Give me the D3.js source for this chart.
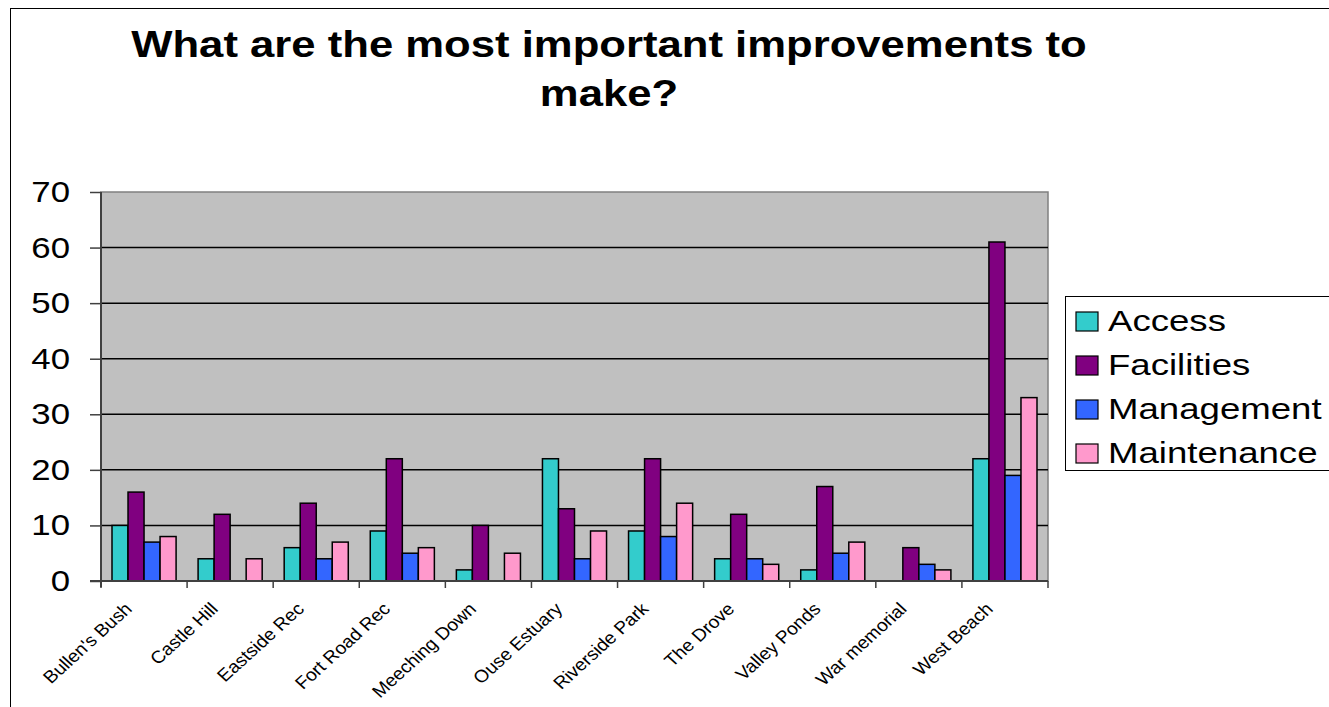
<!DOCTYPE html>
<html>
<head>
<meta charset="utf-8">
<script src="https://cdn.jsdelivr.net/npm/d3@7"></script>
<style>
  html, body { margin: 0; padding: 0; background: #fff; }
  svg { display: block; font-family: "Liberation Sans", Arial, sans-serif; }
</style>
</head>
<body>
<svg id="chart" width="1329" height="707"></svg>
<script>
// data
var sites = ["Bullen's Bush", 'Castle Hill', 'Eastside Rec', 'Fort Road Rec', 'Meeching Down',
  'Ouse Estuary', 'Riverside Park', 'The Drove', 'Valley Ponds', 'War memorial', 'West Beach'];
var seriesNames = ['Access', 'Facilities', 'Management', 'Maintenance'];
var access      = [10, 4, 6, 9, 2, 22, 9, 4, 2, 0, 22];
var facilities  = [16, 12, 14, 22, 10, 13, 22, 12, 17, 6, 61];
var management  = [7, 0, 4, 5, 0, 4, 8, 4, 5, 3, 19];
var maintenance = [8, 4, 7, 6, 5, 9, 14, 3, 7, 2, 33];
var yTicks = [0, 10, 20, 30, 40, 50, 60, 70];
var titleLines = ['What are the most important improvements to', 'make?'];

var colours = ['#33CCCC', '#800080', '#3366FF', '#FF99CC'];
var seriesValues = [access, facilities, management, maintenance];

(function drawChart() {
  'use strict';

  var svg = d3.select('#chart');
  var plot = { left: 101, right: 1048, top: 192, bottom: 581 };
  var stretch = 1.2; // source text is a bit wider than it is tall

  // outer frame
  svg.append('rect')
    .attr('x', 10.5).attr('y', 8.5)
    .attr('width', 1340).attr('height', 720)
    .attr('fill', '#fff').attr('stroke', '#000').attr('stroke-width', 1);

  // title
  titleLines.forEach(function (line, i) {
    svg.append('text')
      .attr('transform', 'translate(609,' + (57 + i * 49) + ') scale(1.18,1)')
      .attr('text-anchor', 'middle')
      .attr('font-size', 37)
      .attr('font-weight', 'bold')
      .text(line);
  });

  // scales
  var x = d3.scaleBand().domain(sites).range([plot.left, plot.right]).padding(0);
  var inner = d3.scaleBand().domain(seriesNames)
    .range([11, x.bandwidth() - 11]).padding(0);
  var y = d3.scaleLinear().domain([0, 70]).range([plot.bottom, plot.top]);

  // plot background
  svg.append('rect')
    .attr('x', plot.left).attr('y', plot.top)
    .attr('width', plot.right - plot.left).attr('height', plot.bottom - plot.top)
    .attr('fill', '#C0C0C0').attr('stroke', '#808080').attr('stroke-width', 1.5);

  // gridlines
  svg.append('g')
    .selectAll('line')
    .data(yTicks.filter(function (t) { return t > 0 && t < 70; }))
    .join('line')
    .attr('x1', plot.left).attr('x2', plot.right)
    .attr('y1', function (d) { return y(d); })
    .attr('y2', function (d) { return y(d); })
    .attr('stroke', '#000').attr('stroke-width', 1.5);

  // bars
  var groups = svg.append('g')
    .selectAll('g')
    .data(sites)
    .join('g')
    .attr('transform', function (d) { return 'translate(' + x(d) + ',0)'; });

  groups.selectAll('rect')
    .data(function (d, i) {
      return seriesNames.map(function (s, j) {
        return { series: s, value: seriesValues[j][i], colour: colours[j] };
      }).filter(function (b) { return b.value > 0; });
    })
    .join('rect')
    .attr('x', function (d) { return inner(d.series); })
    .attr('y', function (d) { return y(d.value); })
    .attr('width', inner.bandwidth())
    .attr('height', function (d) { return y(0) - y(d.value); })
    .attr('fill', function (d) { return d.colour; })
    .attr('stroke', '#000').attr('stroke-width', 1.5);

  // y axis
  var yAxis = svg.append('g')
    .attr('transform', 'translate(' + plot.left + ',0)')
    .call(d3.axisLeft(y).tickValues(yTicks).tickSize(11).tickFormat(''));
  yAxis.select('.domain').attr('stroke', '#404040').attr('stroke-width', 2)
    .attr('d', 'M0,' + plot.top + 'V' + (plot.bottom + 6));
  yAxis.selectAll('.tick line').attr('stroke', '#404040').attr('stroke-width', 1.5);

  svg.append('g')
    .selectAll('text')
    .data(yTicks)
    .join('text')
    .attr('transform', function (d) { return 'translate(70,' + (y(d) + 10) + ') scale(' + stretch + ',1)'; })
    .attr('text-anchor', 'end')
    .attr('font-size', 29)
    .text(function (d) { return d; });

  // x axis
  svg.append('line')
    .attr('x1', plot.left - 11).attr('x2', plot.right)
    .attr('y1', plot.bottom).attr('y2', plot.bottom)
    .attr('stroke', '#404040').attr('stroke-width', 2);
  svg.append('g')
    .selectAll('line')
    .data(sites.concat(['end']))
    .join('line')
    .attr('x1', function (d, i) { return plot.left + i * x.bandwidth(); })
    .attr('x2', function (d, i) { return plot.left + i * x.bandwidth(); })
    .attr('y1', plot.bottom).attr('y2', plot.bottom + 7)
    .attr('stroke', '#404040').attr('stroke-width', 1.5);

  svg.append('g')
    .selectAll('text')
    .data(sites)
    .join('text')
    .attr('transform', function (d) {
      return 'translate(' + (x(d) + x.bandwidth() / 2 - 11) + ',610) scale(1.1,1) rotate(-45)';
    })
    .attr('text-anchor', 'end')
    .attr('font-size', 17.5)
    .text(function (d) { return d; });

  // legend
  var legend = svg.append('g');
  legend.append('rect')
    .attr('x', 1065.5).attr('y', 296.5)
    .attr('width', 300).attr('height', 174)
    .attr('fill', '#fff').attr('stroke', '#000').attr('stroke-width', 1);

  var items = legend.selectAll('g')
    .data(seriesNames)
    .join('g')
    .attr('transform', function (d, i) { return 'translate(0,' + (i * 44) + ')'; });

  items.append('rect')
    .attr('x', 1076).attr('y', 312)
    .attr('width', 22).attr('height', 19)
    .attr('fill', function (d, i) { return colours[i]; })
    .attr('stroke', '#000').attr('stroke-width', 1.2);

  items.append('text')
    .attr('transform', 'translate(1108,331) scale(1.22,1)')
    .attr('font-size', 30)
    .text(function (d) { return d; });
})();
</script>
</body>
</html>
